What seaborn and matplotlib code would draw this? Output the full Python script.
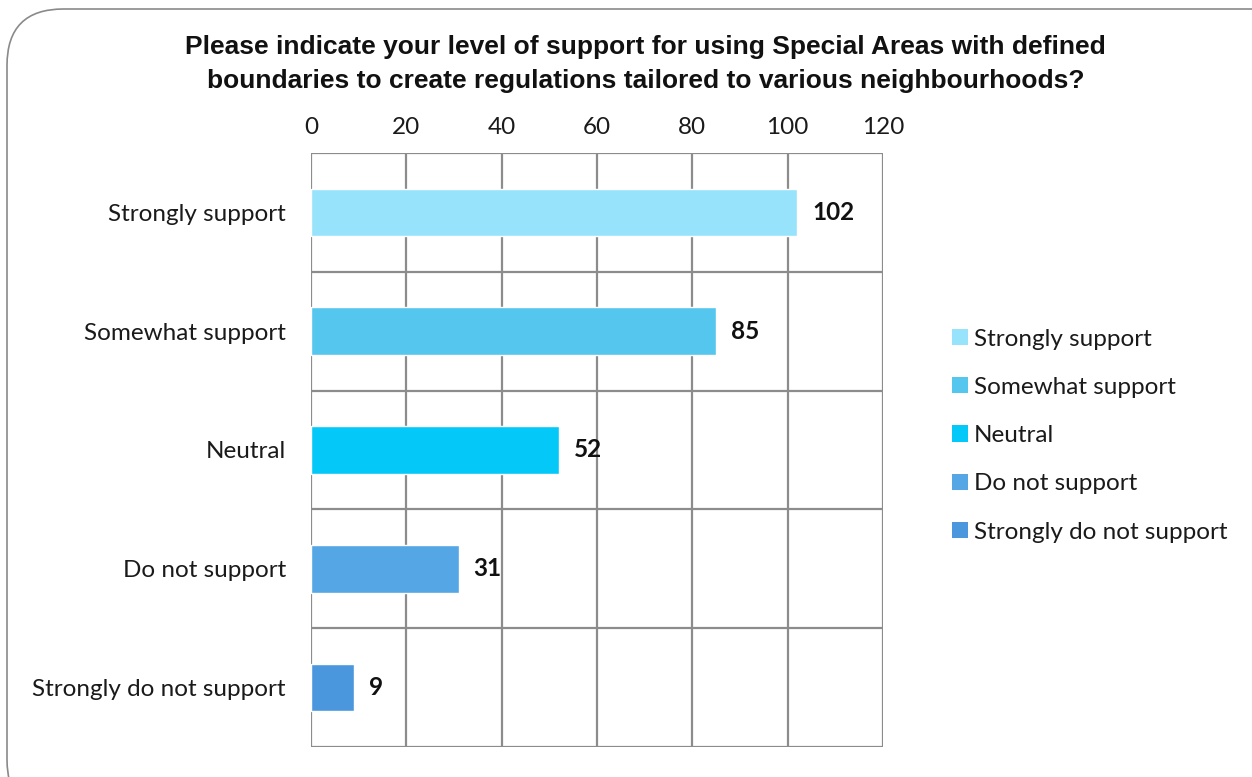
import matplotlib
matplotlib.use("Agg")
import matplotlib.pyplot as plt
from matplotlib.patches import FancyBboxPatch, Patch
import seaborn as sns
import pandas as pd

# Survey responses
categories = ["Strongly support", "Somewhat support", "Neutral",
              "Do not support", "Strongly do not support"]
counts = [102, 85, 52, 31, 9]
colors = ["#97E3FB", "#55C6EE", "#04C8F8", "#55A6E4", "#4A97DE"]
x_ticks = [0, 20, 40, 60, 80, 100, 120]
title = ("Please indicate your level of support for using Special Areas with defined\n"
         "boundaries to create regulations tailored to various neighbourhoods?")

sns.set_theme(style="white")
plt.rcParams["font.family"] = ["Lato", "DejaVu Sans"]

df = pd.DataFrame({"response": categories, "count": counts})

fig = plt.figure(figsize=(12.52, 7.77), dpi=100)
ax = fig.add_axes([0.2484, 0.0386, 0.7053 - 0.2484, 0.8031 - 0.0386])

sns.barplot(data=df, x="count", y="response", hue="response",
            palette=colors, order=categories, hue_order=categories,
            width=0.4, dodge=False, legend=False, ax=ax, saturation=1)

ax.set_xlim(0, 120)
ax.set_ylim(len(categories) - 0.5, -0.5)
ax.set_xticks(x_ticks)
ax.xaxis.tick_top()
ax.tick_params(axis="x", length=0, labelsize=17.5, pad=11, labelcolor="#1a1a1a")
ax.tick_params(axis="y", length=0, labelsize=17.5, pad=18, labelcolor="#1a1a1a")
ax.set_xlabel("")
ax.set_ylabel("")

# Grid: vertical at ticks, horizontal between categories
grid_col = "#8c8c8c"
for xv in x_ticks:
    ax.axvline(xv, color=grid_col, lw=1.6, zorder=0.5)
for yb in [i - 0.5 for i in range(len(categories) + 1)]:
    ax.axhline(yb, color=grid_col, lw=1.6, zorder=0.5)
for s in ax.spines.values():
    s.set_visible(False)

# Value labels
for i, v in enumerate(counts):
    ax.text(v + 3.1, i, str(v), va="center", ha="left",
            fontsize=17.5, fontweight="bold", color="#111111")

# Legend
handles = [Patch(facecolor=c, edgecolor="none") for c in colors]
leg = fig.legend(handles, categories, loc="upper left",
                 bbox_to_anchor=(0.7525, 0.5895), frameon=False,
                 fontsize=17.5, handlelength=0.65, handleheight=0.65,
                 handletextpad=0.25, labelspacing=1.12, borderaxespad=0)
for t in leg.get_texts():
    t.set_color("#1a1a1a")

# Title
fig.text(0.5155, 0.955, title, ha="center", va="top", fontsize=19,
         fontweight="bold", family=["Liberation Sans", "DejaVu Sans"],
         linespacing=1.55, color="#111111")

# Rounded chart frame
frame = FancyBboxPatch((7 / 1252, -0.05), 1.2, 1 - 9 / 777 + 0.05,
                       boxstyle="round,pad=0,rounding_size=0.045",
                       transform=fig.transFigure, facecolor="none",
                       edgecolor="#8a8a8a", lw=1.2, mutation_aspect=1252 / 777,
                       clip_on=False)
fig.patches.append(frame)

fig.savefig("out.png", dpi=100)
